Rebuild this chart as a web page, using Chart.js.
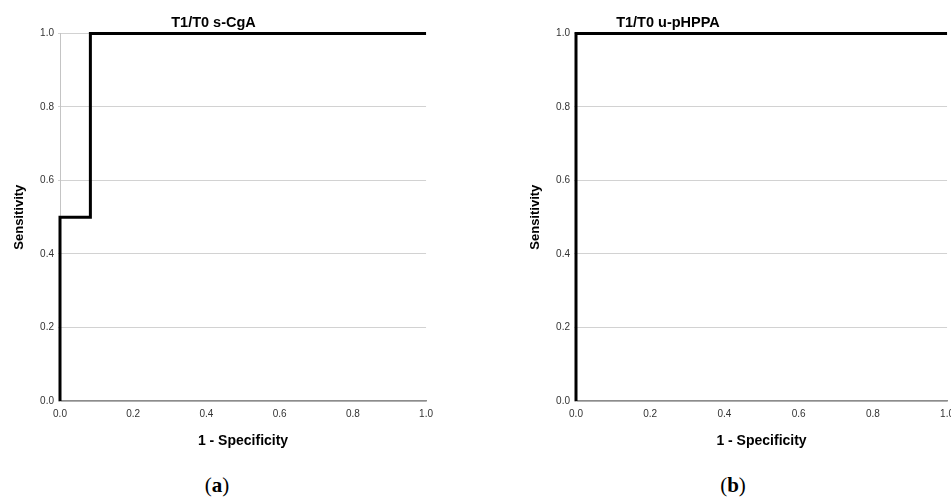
<!DOCTYPE html>
<html>
<head>
<meta charset="utf-8">
<script src="https://cdn.jsdelivr.net/npm/chart.js@4"></script>
<style>
  html, body { margin: 0; padding: 0; background: #fff; overflow: hidden; width: 951px; height: 501px; }
  .panel { position: absolute; top: 0; }
  .tag { position: absolute; top: 473px; width: 60px; text-align: center; font-family: "Liberation Serif", serif; font-size: 21px; color: #000; }
  .tag b { font-weight: bold; }
</style>
</head>
<body>
<canvas id="roc_a" class="panel" width="440" height="455" style="left:0px"></canvas>
<canvas id="roc_b" class="panel" width="445" height="455" style="left:516px"></canvas>
<div class="tag" style="left:187px">(<b>a</b>)</div>
<div class="tag" style="left:703px">(<b>b</b>)</div>
<script>
// ROC curve data (1 - specificity, sensitivity)
const tickValues = [0, 0.2, 0.4, 0.6, 0.8, 1.0];
const fprCgA = [0, 0, 0.083, 0.083, 1];
const tprCgA = [0, 0.5, 0.5, 1, 1];
const fprPHPPA = [0, 0, 1];
const tprPHPPA = [0, 1, 1];

const FONT = '"Liberation Sans", Arial, sans-serif';

// nudge the chart title sideways (panel b is cropped in the original)
const titleShift = {
    id: 'titleShift',
    afterLayout(chart, args, opts) {
        const box = chart.titleBlock;
        if (box && opts.dx) {
            box.left += opts.dx;
            box.right += opts.dx;
        }
    }
};

function rocChart(id, title, fpr, tpr, padRight, titleDx) {
    const points = fpr.map((x, i) => ({ x: x, y: tpr[i] }));

    const chart_data = {
        datasets: [{
            data: points,
            borderColor: '#000',
            borderWidth: 3,
            pointRadius: 0,
            fill: false,
            tension: 0,
            clip: false
        }]
    };

    const config = {
        type: 'line',
        data: chart_data,
        plugins: [titleShift],
        options: {
            responsive: false,
            animation: false,
            layout: { padding: { left: 0, right: padRight, top: 0, bottom: 0 } },
            plugins: {
                legend: { display: false },
                tooltip: { enabled: false },
                titleShift: { dx: titleDx },
                title: {
                    display: true,
                    text: title,
                    color: '#000',
                    font: { family: FONT, size: 14.5, weight: 'bold' },
                    padding: { top: 14, bottom: 2 }
                }
            },
            scales: {
                x: {
                    type: 'linear',
                    min: 0,
                    max: 1,
                    afterBuildTicks: scale => { scale.ticks = tickValues.map(v => ({ value: v })); },
                    afterFit: scale => { scale.height = 54; },
                    grid: { display: false, drawTicks: false },
                    border: { display: true, color: '#8c8c8c', width: 1.5 },
                    ticks: {
                        padding: 7,
                        color: '#333',
                        font: { family: FONT, size: 10 },
                        callback: v => v.toFixed(1)
                    },
                    title: {
                        display: true,
                        text: '1 - Specificity',
                        color: '#000',
                        font: { family: FONT, size: 14, weight: 'bold' },
                        padding: { top: 0, bottom: 5 }
                    }
                },
                y: {
                    type: 'linear',
                    min: 0,
                    max: 1,
                    afterBuildTicks: scale => { scale.ticks = tickValues.map(v => ({ value: v })); },
                    afterFit: scale => { scale.width = 60; },
                    grid: { color: '#d2d2d2', lineWidth: 1, tickLength: 2 },
                    border: { display: true, color: '#c4c4c4', width: 1 },
                    ticks: {
                        padding: 4,
                        color: '#333',
                        font: { family: FONT, size: 10 },
                        callback: v => v.toFixed(1)
                    },
                    title: {
                        display: true,
                        text: 'Sensitivity',
                        color: '#000',
                        font: { family: FONT, size: 13, weight: 'bold' },
                        padding: { top: 12, bottom: 0 }
                    }
                }
            }
        }
    };

    return new Chart(document.getElementById(id), config);
}

rocChart('roc_a', 'T1/T0 s-CgA', fprCgA, tprCgA, 13, 0);
rocChart('roc_b', 'T1/T0 u-pHPPA', fprPHPPA, tprPHPPA, 9, -66);
</script>
</body>
</html>
